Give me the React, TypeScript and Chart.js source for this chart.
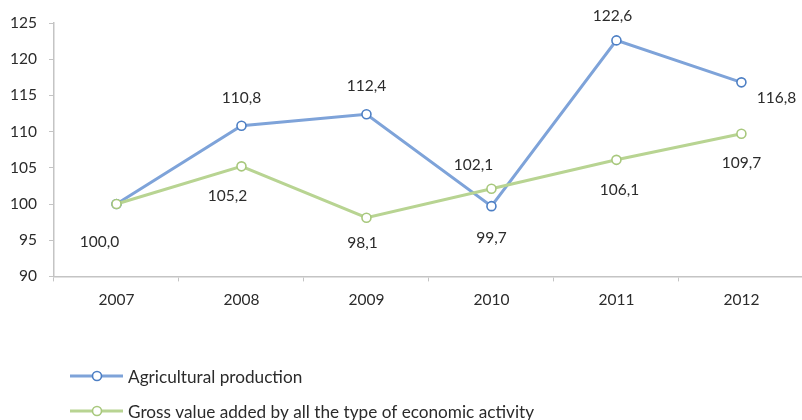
import React, { useEffect, useRef } from "react";
import { Chart, registerables } from "chart.js";

Chart.register(...registerables);

const years = ["2007", "2008", "2009", "2010", "2011", "2012"];
const agriculturalProduction = [100.0, 110.8, 112.4, 99.7, 122.6, 116.8];
const grossValueAdded = [100.0, 105.2, 98.1, 102.1, 106.1, 109.7];
const seriesNames = [
  "Agricultural production",
  "Gross value added by all the type of economic activity",
];
const yMin = 90;
const yMax = 125;
const yStep = 5;

// label placement (style): pixel offsets from each point, null = no label
const agriLabelOffsets: ([number, number] | null)[] = [
  [-17, 38], [0, -28], [0, -28], [0, 32], [-4, -24], [35, 16],
];
const grossLabelOffsets: ([number, number] | null)[] = [
  null, [-14, 30], [-4, 25], [-18, -24], [3, 30], [0, 29],
];

const FONT = "Lato, 'Open Sans', sans-serif";
const NUM_SIZE = 15.5;
const LEGEND_SIZE = 17.2;
const BLUE_LINE = "#7ea3d9";
const BLUE_MARK = "#4d7fc4";
const GREEN_LINE = "#b8d492";
const GREEN_MARK = "#a8c87d";
const AXIS = "#c4c4c4";
const TEXT = "#2b2b2b";

const fmt = (v: number) => v.toFixed(1).replace(".", ",");

const labelPlugin = {
  id: "pointLabels",
  afterDatasetsDraw(chart: any) {
    const ctx = chart.ctx;
    const offsets = [agriLabelOffsets, grossLabelOffsets];
    ctx.save();
    ctx.font = `${NUM_SIZE}px ${FONT}`;
    ctx.fillStyle = TEXT;
    ctx.textAlign = "center";
    ctx.textBaseline = "middle";
    chart.data.datasets.forEach((ds: any, di: number) => {
      const meta = chart.getDatasetMeta(di);
      meta.data.forEach((pt: any, i: number) => {
        const off = offsets[di][i];
        if (!off) return;
        ctx.fillText(fmt(ds.data[i]), pt.x + off[0], pt.y + off[1]);
      });
    });
    ctx.restore();
  },
};

const legendPlugin = {
  id: "customLegend",
  afterDraw(chart: any) {
    const ctx = chart.ctx;
    ctx.save();
    ctx.font = `${LEGEND_SIZE}px ${FONT}`;
    ctx.textBaseline = "middle";
    ctx.textAlign = "left";
    const rows = [376, 411];
    chart.data.datasets.forEach((ds: any, di: number) => {
      const y = rows[di];
      ctx.strokeStyle = ds.borderColor;
      ctx.lineWidth = ds.borderWidth;
      ctx.beginPath();
      ctx.moveTo(70, y);
      ctx.lineTo(123, y);
      ctx.stroke();
      ctx.beginPath();
      ctx.arc(97, y, 4.5, 0, Math.PI * 2);
      ctx.fillStyle = "#ffffff";
      ctx.fill();
      ctx.strokeStyle = ds.pointBorderColor;
      ctx.lineWidth = 1.6;
      ctx.stroke();
      ctx.fillStyle = TEXT;
      ctx.fillText(ds.label, 128, y + 1);
    });
    ctx.restore();
  },
};

export default function App() {
  const ref = useRef<HTMLCanvasElement | null>(null);
  useEffect(() => {
    if (!ref.current) return;
    const chart = new Chart(ref.current, {
      type: "line",
      data: {
        labels: years,
        datasets: [
          {
            label: seriesNames[0],
            data: agriculturalProduction,
            borderColor: BLUE_LINE,
            borderWidth: 3,
            pointBorderColor: BLUE_MARK,
            pointBackgroundColor: "#ffffff",
            pointRadius: 4.5,
            pointBorderWidth: 1.6,
            tension: 0,
            order: 1,
          },
          {
            label: seriesNames[1],
            data: grossValueAdded,
            borderColor: GREEN_LINE,
            borderWidth: 3,
            pointBorderColor: GREEN_MARK,
            pointBackgroundColor: "#ffffff",
            pointRadius: 4.5,
            pointBorderWidth: 1.6,
            tension: 0,
            order: 0,
          },
        ],
      },
      options: {
        animation: false,
        responsive: false,
        layout: { padding: { left: 0, right: 4, top: 23, bottom: 102 } },
        plugins: {
          legend: { display: false },
          tooltip: { enabled: false },
        },
        scales: {
          x: {
            offset: true,
            grid: {
              offset: true,
              drawOnChartArea: false,
              drawTicks: true,
              tickLength: 5,
              color: AXIS,
            },
            border: { display: true, color: AXIS, width: 1.5 },
            ticks: {
              color: TEXT,
              font: { family: FONT, size: NUM_SIZE },
              padding: 9,
              maxRotation: 0,
            },
          },
          y: {
            min: yMin,
            max: yMax,
            grid: {
              drawOnChartArea: false,
              drawTicks: true,
              tickLength: 5,
              color: AXIS,
            },
            border: { display: true, color: AXIS, width: 1.5 },
            ticks: {
              stepSize: yStep,
              color: TEXT,
              font: { family: FONT, size: NUM_SIZE },
              padding: 12,
            },
            afterFit: (scale: any) => {
              scale.width = 54;
            },
          },
        },
      },
      plugins: [labelPlugin, legendPlugin],
    });
    return () => chart.destroy();
  }, []);
  return (
    <div
      style={{
        position: "absolute",
        left: 0,
        top: 0,
        width: 802,
        height: 420,
        overflow: "hidden",
        background: "#ffffff",
      }}
    >
      <canvas ref={ref} width={810} height={420} style={{ display: "block" }} />
    </div>
  );
}
